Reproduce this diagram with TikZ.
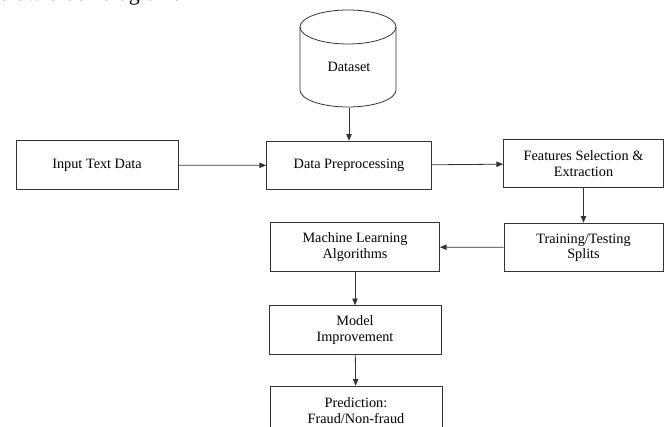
\documentclass[tikz,border=0pt]{standalone}
\usepackage{fontspec}
\setmainfont{Liberation Serif}
\usetikzlibrary{arrows.meta}

\begin{document}
\begin{tikzpicture}[x=0.75pt,y=-0.75pt,
    line/.style={draw=black!80,line width=0.6pt},
    box/.style={line,align=center,inner sep=0pt,minimum height=36.5pt,
        font=\fontsize{10.7}{11.5}\selectfont},
    arr/.style={line,-{Triangle[length=5pt,width=4pt]}}]
  \useasboundingbox (0,0) rectangle (664,427);
  \clip (0,0) rectangle (664,427);
  % caption line, cut at the top
  \node[anchor=base west,inner sep=0pt,font=\fontsize{16.5}{18}\selectfont] (caption) at (-12,0.5) {below block diagram.};
  % dataset drum
  \draw[line] (300,27) -- (300,90) arc[start angle=180,end angle=0,x radius=48,y radius=17] -- (396,27);
  \draw[line] (348,27) ellipse[x radius=48,y radius=17];
  \node[inner sep=0pt,minimum height=61.5pt,font=\fontsize{10.7}{11.5}\selectfont] (dataset) at (349,67) {Dataset};
  % boxes
  \node[box,minimum width=121.5pt] (input) at (97,165) {Input Text Data};
  \node[box,minimum width=123.75pt] (prep) at (349,165.5) {Data Preprocessing};
  \node[box,minimum width=120pt] (feat) at (583.5,163.5) {Features Selection \&\\Extraction};
  \node[box,minimum width=119.25pt] (train) at (583.5,247.5) {Training/Testing\\Splits};
  \node[box,minimum width=126.75pt] (ml) at (355,247) {Machine Learning\\Algorithms};
  \node[box,minimum width=129pt] (model) at (355,330) {Model\\Improvement};
  \node[box,minimum width=129pt] (pred) at (356,410.5) {Prediction:\\Fraud/Non-fraud};
  % arrows
  \draw[arr] (dataset.south) -- (prep.north);
  \draw[arr] (input) -- (prep);
  \draw[arr] (prep) -- (feat);
  \draw[arr] (feat) -- (train);
  \draw[arr] (train) -- (ml);
  \draw[arr] (ml) -- (model);
  \draw[arr] (model) -- (pred);
\end{tikzpicture}
\end{document}
